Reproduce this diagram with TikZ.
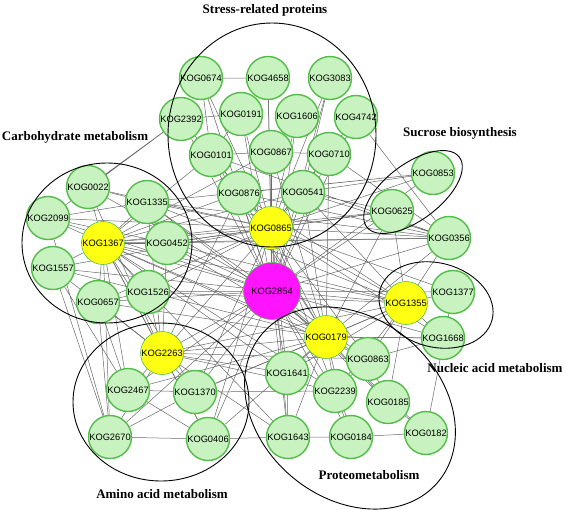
\documentclass[tikz,border=0pt]{standalone}
\usepackage{fontspec}
\setmainfont{Liberation Serif}
\setsansfont{Liberation Sans}
\usetikzlibrary{backgrounds}
\definecolor{kogfill}{RGB}{200,242,192}
\definecolor{kogline}{RGB}{84,188,74}
\definecolor{hubfill}{RGB}{255,255,20}
\definecolor{corefill}{RGB}{255,20,255}
\definecolor{linkgray}{RGB}{105,105,105}

\begin{document}
\begin{tikzpicture}[x=1pt,y=-1pt,
    kog/.style={circle,draw=kogline,line width=1.4pt,fill=kogfill,minimum size=43pt,inner sep=0pt,
      font=\sffamily\fontsize{9.3}{10}\selectfont},
    hub/.style={kog,fill=hubfill,line width=0.6pt},
    core/.style={kog,fill=corefill,line width=0.6pt,minimum size=57pt},
    group/.style={draw=black,line width=0.9pt},
    grouplabel/.style={font=\bfseries\fontsize{13}{15}\selectfont},
    link/.style={color=linkgray,line width=0.5pt}]

  \useasboundingbox (0,0) rectangle (567,509);

  % stress-related proteins
  \node[kog] at (201,78) (k0674) {KOG0674};
  \node[kog] at (268,78) (k4658) {KOG4658};
  \node[kog] at (330,78) (k3083) {KOG3083};
  \node[kog] at (181,119) (k2392) {KOG2392};
  \node[kog] at (241,114) (k0191) {KOG0191};
  \node[kog] at (297,116) (k1606) {KOG1606};
  \node[kog] at (356,117) (k4742) {KOG4742};
  \node[kog] at (211,155) (k0101) {KOG0101};
  \node[kog] at (271,152) (k0867) {KOG0867};
  \node[kog] at (329,154) (k0710) {KOG0710};
  \node[kog] at (239,193) (k0876) {KOG0876};
  \node[kog] at (303,192) (k0541) {KOG0541};
  \node[hub] at (271,228) (k0865) {KOG0865};
  \node[core] at (272,291) (k2854) {KOG2854};

  % carbohydrate metabolism
  \node[kog] at (88,187) (k0022) {KOG0022};
  \node[kog] at (147,202) (k1335) {KOG1335};
  \node[kog] at (48,218) (k2099) {KOG2099};
  \node[hub] at (103,243) (k1367) {KOG1367};
  \node[kog] at (167,243) (k0452) {KOG0452};
  \node[kog] at (53,268) (k1557) {KOG1557};
  \node[kog] at (98,302) (k0657) {KOG0657};
  \node[kog] at (148,292) (k1526) {KOG1526};

  % sucrose biosynthesis
  \node[kog] at (433,173) (k0853) {KOG0853};
  \node[kog] at (392,211) (k0625) {KOG0625};
  \node[kog] at (449,238) (k0356) {KOG0356};

  % nucleic acid metabolism
  \node[hub] at (406,303) (k1355) {KOG1355};
  \node[kog] at (453,292) (k1377) {KOG1377};
  \node[kog] at (443,338) (k1668) {KOG1668};

  % proteometabolism
  \node[hub] at (326,337) (k0179) {KOG0179};
  \node[kog] at (368,359) (k0863) {KOG0863};
  \node[kog] at (287,373) (k1641) {KOG1641};
  \node[kog] at (335,391) (k2239) {KOG2239};
  \node[kog] at (388,402) (k0185) {KOG0185};
  \node[kog] at (288,437) (k1643) {KOG1643};
  \node[kog] at (351,437) (k0184) {KOG0184};
  \node[kog] at (426,433) (k0182) {KOG0182};

  % amino acid metabolism
  \node[hub] at (162,353) (k2263) {KOG2263};
  \node[kog] at (128,390) (k2467) {KOG2467};
  \node[kog] at (195,392) (k1370) {KOG1370};
  \node[kog] at (110,437) (k2670) {KOG2670};
  \node[kog] at (208,439) (k0406) {KOG0406};

  \begin{pgfonlayer}{background}
    \draw[link] (k2854) edge (k0674) edge (k4658) edge (k3083) edge (k2392) edge (k0191)
      edge (k1606) edge (k4742) edge (k0101) edge (k0867) edge (k0710) edge (k0876)
      edge (k0541) edge (k0865) edge (k0022) edge (k1335) edge (k2099) edge (k1367)
      edge (k0452) edge (k1557) edge (k0657) edge (k1526) edge (k0853) edge (k0625)
      edge (k0356) edge (k1355) edge (k1377) edge (k1668) edge (k0179) edge (k0863)
      edge (k1641) edge (k2239) edge (k0185) edge (k1643) edge (k0184) edge (k0182)
      edge (k2263) edge (k2467) edge (k1370) edge (k2670) edge (k0406);
    \draw[link] (k0865) edge (k0674) edge (k4658) edge (k3083) edge (k2392) edge (k0191)
      edge (k1606) edge (k4742) edge (k0101) edge (k0867) edge (k0710) edge (k0876)
      edge (k0541) edge (k0022) edge (k1335) edge (k2099) edge (k1367) edge (k0452)
      edge (k1557) edge (k0657) edge (k1526) edge (k0853) edge (k0625) edge (k0356)
      edge (k1355) edge (k1377) edge (k1668) edge (k0179) edge (k0863) edge (k1641)
      edge (k2239) edge (k1643) edge (k2263) edge (k1370) edge (k0406);
    \draw[link] (k1367) edge (k0022) edge (k1335) edge (k2099) edge (k0452) edge (k1557)
      edge (k0657) edge (k1526) edge (k0101) edge (k0876) edge (k0541) edge (k0867)
      edge (k0625) edge (k0356) edge (k1355) edge (k0179) edge (k2263) edge (k2467)
      edge (k1370) edge (k2670) edge (k0406) edge (k1641) edge (k2239) edge (k1643)
      edge (k0863);
    \draw[link] (k0179) edge (k0101) edge (k0876) edge (k0541) edge (k0867) edge (k0710)
      edge (k1335) edge (k0452) edge (k1526) edge (k0657) edge (k0625) edge (k0356)
      edge (k1355) edge (k1668) edge (k0863) edge (k1641) edge (k2239) edge (k0185)
      edge (k1643) edge (k0184) edge (k2263) edge (k1370) edge (k2467) edge (k0406);
    \draw[link] (k1355) edge (k0876) edge (k0541) edge (k1335) edge (k0452) edge (k1526)
      edge (k0625) edge (k0356) edge (k1377) edge (k1668) edge (k0863) edge (k2239)
      edge (k0185) edge (k1641) edge (k2263) edge (k1370);
    \draw[link] (k2263) edge (k0022) edge (k1335) edge (k0452) edge (k1526) edge (k0657)
      edge (k1557) edge (k0876) edge (k2467) edge (k1370) edge (k2670) edge (k0406)
      edge (k1641) edge (k2239) edge (k1643) edge (k0863);
    \draw[link] (k0674) -- (k4658) (k2392) -- (k0191) (k0101) -- (k0867) (k0867) -- (k0710)
      (k2392) -- (k0022) (k2392) -- (k2099) (k0876) -- (k0853) (k0541) -- (k0853)
      (k1335) -- (k0853) (k1335) -- (k0356) (k0452) -- (k0356) (k0876) -- (k0356)
      (k0541) -- (k0356) (k0101) -- (k0356) (k0710) -- (k0356) (k4742) -- (k0356)
      (k0541) -- (k0625) (k0452) -- (k0625) (k0022) -- (k1335) (k2099) -- (k1335)
      (k2099) -- (k0452) (k1557) -- (k1526) (k0657) -- (k1526) (k1557) -- (k2670)
      (k2099) -- (k2670) (k0657) -- (k2670) (k1557) -- (k2467) (k0657) -- (k2467)
      (k2467) -- (k1370) (k1370) -- (k2239) (k2670) -- (k0406) (k0406) -- (k1643)
      (k2670) -- (k1370) (k2467) -- (k0406) (k1643) -- (k0184) (k0184) -- (k0182)
      (k0179) -- (k1668) (k0182) -- (k1377) (k0863) -- (k0185) (k0185) -- (k0182)
      (k2239) -- (k0184) (k1641) -- (k1643) (k0863) -- (k1668) (k0863) -- (k2239)
      (k0191) -- (k0101) (k1606) -- (k0867) (k3083) -- (k0541) (k0674) -- (k0101);
  \end{pgfonlayer}

  % groups
  \draw[group] (272,135) ellipse [x radius=104, y radius=112];
  \draw[group] (107,243) ellipse [x radius=85, y radius=80];
  \draw[group, rotate around={37:(413,192)}] (413,192) ellipse [x radius=58, y radius=28];
  \draw[group, rotate around={-15:(436,305)}] (436,305) ellipse [x radius=58, y radius=42];
  \draw[group, rotate around={-40:(350,408)}] (350,408) ellipse [x radius=115, y radius=90];
  \draw[group] (161,402) ellipse [x radius=88, y radius=79];

  \node[grouplabel] at (265,10) (lstress) {Stress-related proteins};
  \node[grouplabel] at (75,137) (lcarb) {Carbohydrate metabolism};
  \node[grouplabel] at (460,133) (lsucr) {Sucrose biosynthesis};
  \node[grouplabel] at (495,368) (lnucl) {Nucleic acid metabolism};
  \node[grouplabel] at (369,475) (lprot) {Proteometabolism};
  \node[grouplabel] at (162,494) (lamin) {Amino acid metabolism};
\end{tikzpicture}
\end{document}
